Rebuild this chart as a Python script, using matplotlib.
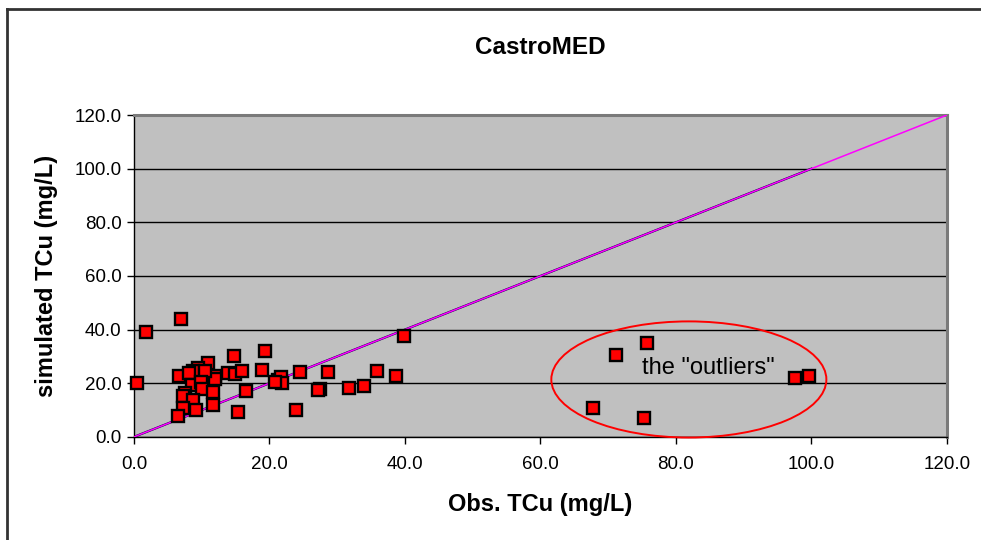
import matplotlib
matplotlib.use('Agg')
import matplotlib.pyplot as plt
from matplotlib.patches import Ellipse
from matplotlib.lines import Line2D

plt.rcParams['font.family'] = ['Liberation Sans', 'DejaVu Sans']

# observed vs simulated total copper (mg/L)
obs = [7.0, 1.7, 0.4, 14.7, 19.3, 10.95, 9.5, 8.7, 6.6, 11.9, 11.9, 13.9, 14.9,
       16.0, 18.9, 8.1, 10.5, 8.5, 9.9, 10.0, 11.7, 16.6, 7.5, 7.3, 8.7, 11.7,
       7.3, 9.1, 15.3, 6.5, 21.3, 21.65, 21.9, 20.8, 24.45, 28.7, 27.5, 27.2,
       31.8, 33.9, 35.8, 38.7, 23.9, 39.8,
       71.2, 75.65, 67.7, 75.3, 97.6, 99.7]
sim = [43.9, 39.0, 20.0, 30.3, 32.1, 27.5, 25.7, 24.4, 22.6, 22.6, 21.4, 23.8, 23.6,
       24.4, 24.8, 23.8, 24.4, 19.5, 20.3, 17.9, 16.6, 17.2, 16.4, 15.1, 13.6, 12.0,
       10.8, 9.9, 9.3, 7.7, 21.3, 22.2, 19.9, 20.3, 24.2, 24.2, 17.9, 17.6,
       18.2, 19.1, 24.4, 22.6, 10.2, 37.5,
       30.4, 35.0, 10.7, 6.9, 22.0, 22.8]

ticks = [0, 20, 40, 60, 80, 100, 120]
tick_labels = ['0.0', '20.0', '40.0', '60.0', '80.0', '100.0', '120.0']

fig = plt.figure(figsize=(9.81, 5.4), dpi=100)
ax = fig.add_axes([0.1366, 0.191, 0.8287, 0.596])
ax.set_facecolor('#C0C0C0')

ax.set_xlim(0, 120)
ax.set_ylim(0, 120)
ax.set_xticks(ticks)
ax.set_xticklabels(tick_labels)
ax.set_yticks(ticks)
ax.set_yticklabels(tick_labels)
ax.tick_params(direction='out', length=5, width=1, labelsize=13.5)
ax.tick_params(axis='x', pad=9)
ax.tick_params(axis='y', pad=4)
ax.yaxis.grid(True, color='black', linewidth=1)
ax.set_axisbelow(True)

for s in ['top', 'right']:
    ax.spines[s].set_color('#7A7A7A')
    ax.spines[s].set_linewidth(2.2)
for s in ['left', 'bottom']:
    ax.spines[s].set_color('black')
    ax.spines[s].set_linewidth(1)

# 1:1 lines
ax.plot([0, 100], [0, 100], color='#000040', linewidth=1.6, zorder=2)
ax.plot([0, 120], [0, 120], color='#FF00FF', linewidth=1.1, zorder=3)

ax.plot(obs, sim, linestyle='none', marker='s', markersize=9,
        markerfacecolor='#FF0000', markeredgecolor='black', markeredgewidth=1.7,
        zorder=4, clip_on=False)

ax.add_patch(Ellipse((81.9, 21.4), 40.6, 43.3, fill=False, edgecolor='#FF0000',
                     linewidth=1.4, zorder=5, clip_on=False))
ax.text(75.0, 25.5, 'the "outliers"', fontsize=17, va='center', ha='left', zorder=6)

ax.set_title('CastroMED', fontsize=17.5, fontweight='bold', pad=44)
ax.set_xlabel('Obs. TCu (mg/L)', fontsize=17, fontweight='bold', labelpad=14)
ax.set_ylabel('simulated TCu (mg/L)', fontsize=17, fontweight='bold', labelpad=12)

# chart border (only left and top visible)
fig.add_artist(Line2D([7 / 981, 7 / 981], [0, 1 - 9 / 540], transform=fig.transFigure,
                      color='#333333', linewidth=2))
fig.add_artist(Line2D([7 / 981, 1], [1 - 9 / 540, 1 - 9 / 540], transform=fig.transFigure,
                      color='#333333', linewidth=2))

plt.savefig('out.png', dpi=100)
